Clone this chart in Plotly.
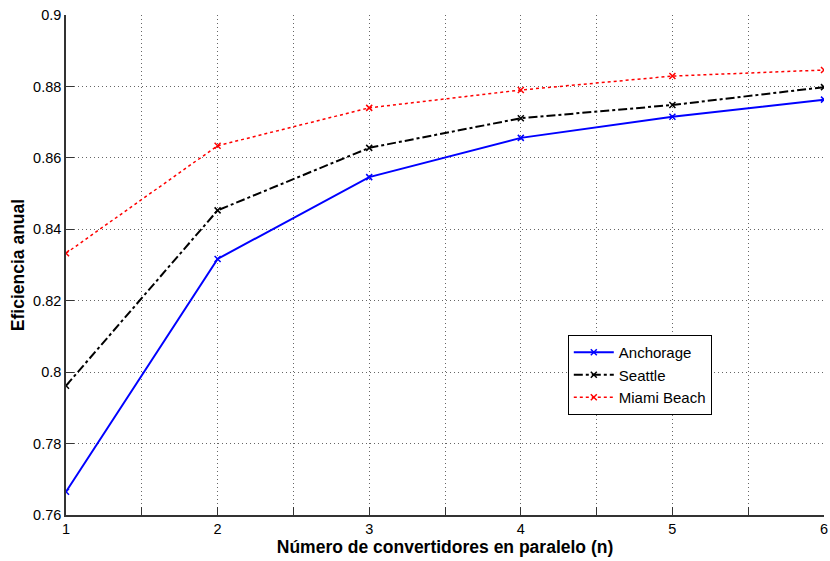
import plotly.graph_objects as go

n_vals = [1, 2, 3, 4, 5, 6]
anchorage = [0.7665, 0.8317, 0.8546, 0.8656, 0.8715, 0.8763]
seattle = [0.7962, 0.8453, 0.8628, 0.8711, 0.8748, 0.8798]
miami = [0.8333, 0.8634, 0.8740, 0.8790, 0.8829, 0.8846]

x_ticks = [1, 1.5, 2, 2.5, 3, 3.5, 4, 4.5, 5, 5.5, 6]
x_ticktext = ["1", "", "2", "", "3", "", "4", "", "5", "", "6"]
y_ticks = [0.76, 0.78, 0.80, 0.82, 0.84, 0.86, 0.88, 0.90]
y_ticktext = ["0.76", "0.78", "0.8", "0.82", "0.84", "0.86", "0.88", "0.9"]

fig = go.Figure()
fig.add_trace(go.Scatter(x=n_vals, y=anchorage, name="Anchorage", mode="lines+markers",
                         line=dict(color="#0000ff", width=2, dash="solid"),
                         marker=dict(symbol="x-thin", size=6, line=dict(color="#0000ff", width=1.5))))
fig.add_trace(go.Scatter(x=n_vals, y=seattle, name="Seattle", mode="lines+markers",
                         line=dict(color="#000000", width=2, dash="dashdot"),
                         marker=dict(symbol="x-thin", size=6, line=dict(color="#000000", width=1.5))))
fig.add_trace(go.Scatter(x=n_vals, y=miami, name="Miami Beach", mode="lines+markers",
                         line=dict(color="#ff0000", width=1.5, dash="dot"),
                         marker=dict(symbol="x-thin", size=6, line=dict(color="#ff0000", width=1.5))))

fig.update_layout(
    width=830, height=561,
    margin=dict(l=66, r=6, t=15, b=46, autoexpand=False),
    paper_bgcolor="white", plot_bgcolor="white",
    font=dict(family="Liberation Sans, Arial", size=14.5, color="black"),
    showlegend=True,
    legend=dict(x=0.662, y=0.36, xanchor="left", yanchor="top",
                bordercolor="black", borderwidth=1, bgcolor="white",
                font=dict(size=15), tracegroupgap=0, itemwidth=40),
)
fig.update_xaxes(range=[1, 6], tickvals=x_ticks, ticktext=x_ticktext, automargin=False,
                 ticklabeloverflow="allow",
                 showgrid=True, gridcolor="#666666", griddash="1px,3px", gridwidth=1,
                 showline=True, linecolor="#333333", linewidth=1.5,
                 ticks="inside", ticklen=8, tickcolor="#333333", zeroline=False,
                 title=dict(text="<b>Número de convertidores en paralelo (n)</b>", font=dict(size=17.5), standoff=4))
fig.update_yaxes(range=[0.76, 0.9], tickvals=y_ticks, ticktext=y_ticktext, automargin=False,
                 ticklabeloverflow="allow",
                 showgrid=True, gridcolor="#666666", griddash="1px,3px", gridwidth=1,
                 showline=True, linecolor="#333333", linewidth=1.5,
                 ticks="inside", ticklen=8, tickcolor="#333333", zeroline=False,
                 title=dict(text="<b>Eficiencia anual</b>", font=dict(size=17.5), standoff=4))

fig.write_html("out.html", config={"displayModeBar": False},
               post_script="document.body.style.margin='0';document.body.style.overflow='hidden';")
